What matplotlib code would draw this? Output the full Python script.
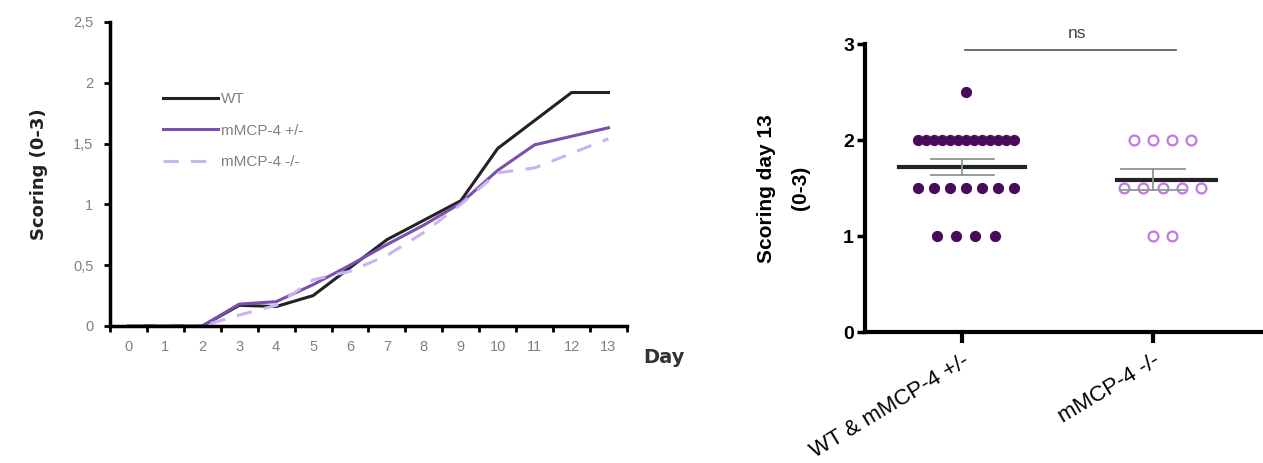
import numpy as np
import matplotlib
matplotlib.use('Agg')
from matplotlib import pyplot as plt

plt.rcParams.update({'font.family': ['Liberation Sans', 'DejaVu Sans']})

# left panel: mean scoring per day
days = list(range(14))
wt = [0, 0, 0, 0.17, 0.16, 0.25, 0.48, 0.71, 0.87, 1.03, 1.46, 1.69, 1.92, 1.92]
het = [0, 0, 0, 0.18, 0.20, 0.34, 0.50, 0.67, 0.83, 1.01, 1.28, 1.49, 1.56, 1.63]
ko = [0, 0, 0, 0.09, 0.17, 0.38, 0.45, 0.58, 0.77, 1.00, 1.26, 1.30, 1.42, 1.54]
series_labels = ['WT', 'mMCP-4 +/-', 'mMCP-4 -/-']

# right panel: individual scores at day 13
group_names = ['WT & mMCP-4 +/-', 'mMCP-4 -/-']
group1 = [2.5] + [2.0] * 13 + [1.5] * 7 + [1.0] * 4
group2 = [2.0] * 4 + [1.5] * 5 + [1.0] * 2

fig = plt.figure(figsize=(12.63, 4.63), dpi=100)

# ---- left panel
ax = fig.add_axes([0.0871, 0.2959, 0.4093, 0.6566])
ax.plot(days, wt, color='#222222', lw=2.2, label=series_labels[0])
ax.plot(days, het, color='#7a4fb0', lw=2.2, label=series_labels[1])
ax.plot(days, ko, color='#c8b4ee', lw=2.2, ls=(0, (5, 4)), label=series_labels[2])
ax.set_xlim(-0.5, 13.5)
ax.set_ylim(0, 2.5)
ax.set_xticks(np.arange(-0.5, 14, 1))
ax.set_xticklabels([])
ax.set_xticks(days, minor=True)
ax.set_xticklabels([str(d) for d in days], minor=True)
ax.tick_params(axis='x', which='major', length=4, width=2, direction='out')
ax.tick_params(axis='x', which='minor', length=0, pad=10, labelsize=10.5, labelcolor='#808080')
ax.set_yticks([0, 0.5, 1, 1.5, 2, 2.5])
ax.set_yticklabels(['0', '0,5', '1', '1,5', '2', '2,5'])
ax.tick_params(axis='y', length=4, width=2, labelsize=10.5, labelcolor='#808080', pad=8)
for s in ['top', 'right']:
    ax.spines[s].set_visible(False)
for s in ['left', 'bottom']:
    ax.spines[s].set_linewidth(2.5)
ax.set_ylabel('Scoring (0-3)', fontsize=13, fontweight='bold', labelpad=18,
              family='DejaVu Sans', color='#222222')
ax.text(1.031, -0.102, 'Day', transform=ax.transAxes, fontsize=14, fontweight='bold',
        ha='left', va='center', family='DejaVu Sans', color='#333333')
leg = ax.legend(loc='upper left', bbox_to_anchor=(0.075, 0.815), frameon=False,
                fontsize=11, handlelength=3.6, labelspacing=1.15, handletextpad=0.2)
for t in leg.get_texts():
    t.set_color('#808080')

# ---- right panel
ax2 = fig.add_axes([0.6849, 0.2823, 0.3151, 0.622])


def spread(values, center, step=0.1, max_width=0.5):
    xs = np.zeros(len(values))
    vals = np.array(values)
    for v in np.unique(vals):
        idx = np.where(vals == v)[0]
        n = len(idx)
        if n > 1:
            st = min(step, max_width / (n - 1))
        else:
            st = 0
        xs[idx] = center + (np.arange(n) - (n - 1) / 2) * st
    return xs


ax2.scatter(spread(group1, 0.02, max_width=0.5), group1, s=50, color='#4a0a5a',
            edgecolor='#4a0a5a', zorder=3)
ax2.scatter(spread(group2, 1.05), group2, s=50, facecolor='white', edgecolor='#c27be0',
            linewidth=1.6, zorder=3)

for i, (g, half) in enumerate([(group1, 0.33), (group2, 0.26)]):
    g = np.array(g)
    m = g.mean()
    sem = g.std(ddof=1) / np.sqrt(len(g))
    cx = i + (0.07 if i == 1 else 0)
    ax2.plot([cx - half, cx + half], [m, m], color='#222222', lw=3, zorder=4)
    ax2.plot([i, i], [m - sem, m + sem], color='#8a9a8a', lw=1.3, zorder=4)
    for y in (m - sem, m + sem):
        ax2.plot([i - 0.165, i + 0.165], [y, y], color='#8a9a8a', lw=1.3, zorder=4)

ax2.set_xlim(-0.508, 1.576)
ax2.set_ylim(0, 3)
ax2.set_yticks([0, 1, 2, 3])
ax2.set_yticklabels(['0', '1', '2', '3'], fontweight='bold')
ax2.tick_params(axis='y', length=6, width=2.5, labelsize=14, pad=2)
ax2.set_xticks([0, 1])
ax2.set_xticklabels(group_names, rotation=31, ha='right', rotation_mode='anchor', fontsize=16)
ax2.tick_params(axis='x', length=8, width=3, pad=5)
for s in ['top', 'right']:
    ax2.spines[s].set_visible(False)
for s in ['left', 'bottom']:
    ax2.spines[s].set_linewidth(3)
ax2.set_ylabel('Scoring day 13\n(0-3)', fontsize=15, fontweight='bold', labelpad=24,
               linespacing=2.0)

ax2.plot([0.015, 1.12], [2.94, 2.94], color='#555555', lw=1.2, clip_on=False)
ax2.text(0.6, 3.03, 'ns', ha='center', va='bottom', fontsize=12.5, color='#444444')

fig.savefig('out.png', dpi=100, facecolor='white')
